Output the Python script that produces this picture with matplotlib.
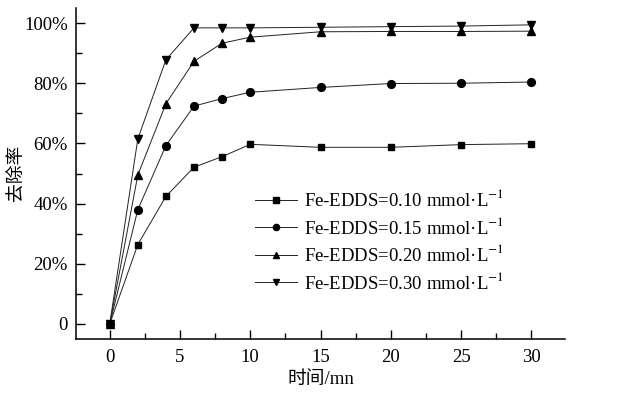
import matplotlib
matplotlib.use("Agg")
from matplotlib import pyplot as plt
from matplotlib.ticker import MultipleLocator, FuncFormatter

plt.rcParams['font.family'] = ['Liberation Serif', 'Noto Sans CJK SC']
plt.rcParams['mathtext.fontset'] = 'stix'

# 数据
t = [0, 2, 4, 6, 8, 10, 15, 20, 25, 30]
c010 = [0, 26.4, 42.4, 52.1, 55.6, 59.7, 58.7, 58.7, 59.6, 59.9]
c015 = [0, 38.0, 59.3, 72.4, 74.9, 77.0, 78.6, 79.9, 80.0, 80.4]
c020 = [0, 49.5, 73.2, 87.3, 93.3, 95.3, 97.1, 97.2, 97.2, 97.3]
c030 = [0, 61.5, 87.8, 98.4, 98.4, 98.4, 98.6, 98.8, 99.0, 99.4]
labels = [r'Fe-EDDS=0.10 mmol·L$^{-1}$',
          r'Fe-EDDS=0.15 mmol·L$^{-1}$',
          r'Fe-EDDS=0.20 mmol·L$^{-1}$',
          r'Fe-EDDS=0.30 mmol·L$^{-1}$']

fig = plt.figure(figsize=(6.29, 3.96), dpi=100)
ax = fig.add_axes([76 / 629, 1 - 339 / 396, (565 - 76) / 629, (339 - 8) / 396])

series = [c010, c015, c020, c030]
markers = ['s', 'o', '^', 'v']
sizes = [4.8, 5.6, 5.8, 5.8]
for y, m, ms, lab in zip(series, markers, sizes, labels):
    ax.plot(t, y, color='#222222', lw=0.7, marker=m, ms=ms,
            mfc='black', mec='black', label=lab)

ax.set_xlim(-2.4, 32.4)
ax.set_ylim(-5, 105)
ax.xaxis.set_major_locator(MultipleLocator(5))
ax.xaxis.set_minor_locator(MultipleLocator(2.5))
ax.yaxis.set_major_locator(MultipleLocator(20))
ax.yaxis.set_minor_locator(MultipleLocator(10))
ax.yaxis.set_major_formatter(FuncFormatter(lambda v, p: '0' if v == 0 else f'{v:.0f}%'))

for s in ['top', 'right']:
    ax.spines[s].set_visible(False)
for s in ['left', 'bottom']:
    ax.spines[s].set_linewidth(1.1)

ax.tick_params(which='major', direction='in', length=6.5, width=1.0, labelsize=13.5)
ax.tick_params(which='minor', direction='in', length=4.5, width=1.0)
ax.tick_params(axis='y', which='major', pad=6)
ax.tick_params(axis='x', which='major', pad=7)

ax.set_xlabel('时间/mn', fontsize=13.5, labelpad=4)
fig.text(17 / 629, 1 - 173 / 396, '去除率', fontsize=13.5, rotation=90,
         ha='center', va='center')

ax.legend(loc='upper left', bbox_to_anchor=((252 - 76) / 489 - 0.02, (339 - 176) / 331),
          frameon=False, fontsize=13.5, handlelength=2.2, handletextpad=0.4,
          labelspacing=0.35, borderpad=0.2, markerscale=0.8)

fig.savefig('out.png', dpi=100)
